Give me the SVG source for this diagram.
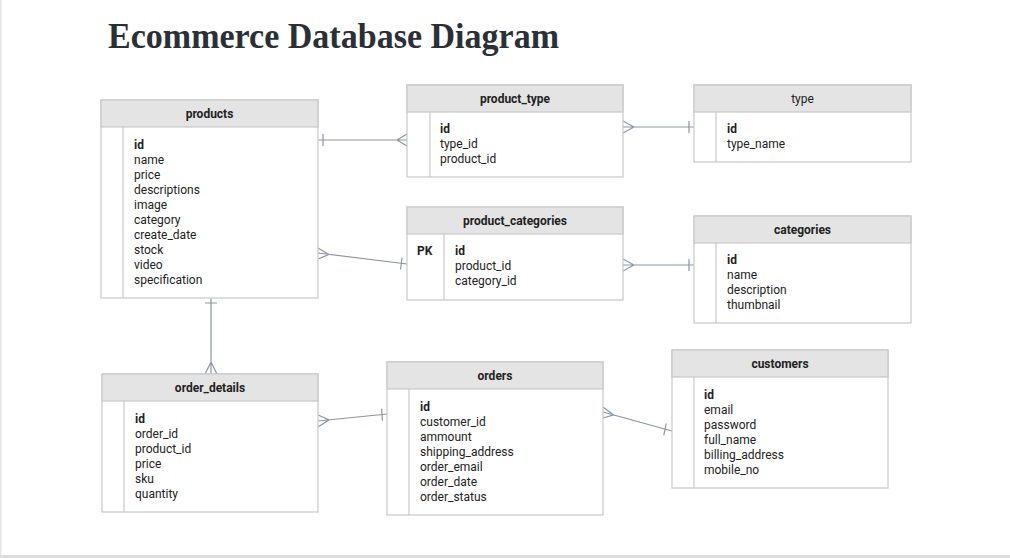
<svg xmlns="http://www.w3.org/2000/svg" width="1010" height="558" viewBox="0 0 1010 558">
<style>
.box{fill:#fff;stroke:#c9c9c9;stroke-width:1.2}
.hdr{fill:#e4e4e4;stroke:#c9c9c9;stroke-width:1.2}
.div{stroke:#c9c9c9;stroke-width:1.2}
.ht{font-family:Roboto,"Liberation Sans",sans-serif;font-size:12px;font-weight:bold;fill:#222;text-anchor:middle}
.htn{font-family:Roboto,"Liberation Sans",sans-serif;font-size:12px;fill:#222;text-anchor:middle}
.f{font-family:Roboto,"Liberation Sans",sans-serif;font-size:12px;fill:#222}
.b{font-weight:bold}
.c{fill:none;stroke:#8a97a3;stroke-width:1.2}
</style>
<rect x="0" y="0" width="1010" height="558" fill="#fff"/>
<rect x="0" y="0" width="1.5" height="558" fill="#e6e6e6"/>
<rect x="0" y="555" width="1010" height="3" fill="#dcdcdc"/>
<text x="108" y="48" font-family="'Liberation Serif',serif" font-weight="bold" font-size="36" fill="#2b2f36" textLength="451" lengthAdjust="spacingAndGlyphs">Ecommerce Database Diagram</text>

<g id="connectors">
  <!-- products - product_type -->
  <path class="c" d="M318,140 H407 M323,134 V146 M397,140 L407,134 M397,140 L407,146"/>
  <!-- product_type - type -->
  <path class="c" d="M623,127 H694 M689,121 V133 M634,127 L623,121 M634,127 L623,133"/>
  <!-- products - product_categories -->
  <path class="c" d="M318,253 L407,264 M402,257.5 L400.6,269.5 M329,254.4 L318,248 M329,254.4 L318,259"/>
  <!-- product_categories - categories -->
  <path class="c" d="M623,265 H694 M689,259 V271 M634,265 L623,259 M634,265 L623,271"/>
  <!-- products - order_details -->
  <path class="c" d="M211,298 V374 M205,303 H217 M211,362 L205,374 M211,362 L217,374"/>
  <!-- order_details - orders -->
  <path class="c" d="M318,421 L387,414 M381.6,408.6 L382.4,420.6 M329,419.9 L318,415 M329,419.9 L318,427"/>
  <!-- orders - customers -->
  <path class="c" d="M603,412 L672,431 M666.2,423.5 L663.8,435.3 M613.6,414.9 L603,407 M613.6,414.9 L603,418"/>
</g>

<g id="products">
  <rect class="box" x="101" y="100" width="217" height="198"/>
  <rect class="hdr" x="101" y="100" width="217" height="27"/>
  <line class="div" x1="123" y1="127" x2="123" y2="298"/>
  <text class="ht" x="209.5" y="118">products</text>
  <text class="f b" x="134" y="149">id</text>
  <text class="f" x="134" y="164">name</text>
  <text class="f" x="134" y="179">price</text>
  <text class="f" x="134" y="194">descriptions</text>
  <text class="f" x="134" y="209">image</text>
  <text class="f" x="134" y="224">category</text>
  <text class="f" x="134" y="239">create_date</text>
  <text class="f" x="134" y="254">stock</text>
  <text class="f" x="134" y="269">video</text>
  <text class="f" x="134" y="284">specification</text>
</g>

<g id="product_type">
  <rect class="box" x="407" y="85" width="216" height="92"/>
  <rect class="hdr" x="407" y="85" width="216" height="27"/>
  <line class="div" x1="430" y1="112" x2="430" y2="177"/>
  <text class="ht" x="515" y="103">product_type</text>
  <text class="f b" x="440" y="133">id</text>
  <text class="f" x="440" y="148">type_id</text>
  <text class="f" x="440" y="163">product_id</text>
</g>

<g id="type">
  <rect class="box" x="694" y="85" width="217" height="77"/>
  <rect class="hdr" x="694" y="85" width="217" height="27"/>
  <line class="div" x1="716" y1="112" x2="716" y2="162"/>
  <text class="htn" x="802.5" y="103">type</text>
  <text class="f b" x="727" y="133">id</text>
  <text class="f" x="727" y="148">type_name</text>
</g>

<g id="product_categories">
  <rect class="box" x="407" y="207" width="216" height="93"/>
  <rect class="hdr" x="407" y="207" width="216" height="27"/>
  <line class="div" x1="444" y1="234" x2="444" y2="300"/>
  <text class="ht" x="515" y="225">product_categories</text>
  <text class="f b" x="417" y="255">PK</text>
  <text class="f b" x="455" y="255">id</text>
  <text class="f" x="455" y="270">product_id</text>
  <text class="f" x="455" y="285">category_id</text>
</g>

<g id="categories">
  <rect class="box" x="694" y="216" width="217" height="107"/>
  <rect class="hdr" x="694" y="216" width="217" height="27"/>
  <line class="div" x1="716" y1="243" x2="716" y2="323"/>
  <text class="ht" x="802.5" y="234">categories</text>
  <text class="f b" x="727" y="264">id</text>
  <text class="f" x="727" y="279">name</text>
  <text class="f" x="727" y="294">description</text>
  <text class="f" x="727" y="309">thumbnail</text>
</g>

<g id="order_details">
  <rect class="box" x="102" y="374" width="216" height="138"/>
  <rect class="hdr" x="102" y="374" width="216" height="27"/>
  <line class="div" x1="124" y1="401" x2="124" y2="512"/>
  <text class="ht" x="210" y="392">order_details</text>
  <text class="f b" x="135" y="423">id</text>
  <text class="f" x="135" y="438">order_id</text>
  <text class="f" x="135" y="453">product_id</text>
  <text class="f" x="135" y="468">price</text>
  <text class="f" x="135" y="483">sku</text>
  <text class="f" x="135" y="498">quantity</text>
</g>

<g id="orders">
  <rect class="box" x="387" y="362" width="216" height="153"/>
  <rect class="hdr" x="387" y="362" width="216" height="27"/>
  <line class="div" x1="409" y1="389" x2="409" y2="515"/>
  <text class="ht" x="495" y="380">orders</text>
  <text class="f b" x="420" y="411">id</text>
  <text class="f" x="420" y="426">customer_id</text>
  <text class="f" x="420" y="441">ammount</text>
  <text class="f" x="420" y="456">shipping_address</text>
  <text class="f" x="420" y="471">order_email</text>
  <text class="f" x="420" y="486">order_date</text>
  <text class="f" x="420" y="501">order_status</text>
</g>

<g id="customers">
  <rect class="box" x="672" y="350" width="216" height="138"/>
  <rect class="hdr" x="672" y="350" width="216" height="27"/>
  <line class="div" x1="694" y1="377" x2="694" y2="488"/>
  <text class="ht" x="780" y="368">customers</text>
  <text class="f b" x="704" y="399">id</text>
  <text class="f" x="704" y="414">email</text>
  <text class="f" x="704" y="429">password</text>
  <text class="f" x="704" y="444">full_name</text>
  <text class="f" x="704" y="459">billing_address</text>
  <text class="f" x="704" y="474">mobile_no</text>
</g>
</svg>
